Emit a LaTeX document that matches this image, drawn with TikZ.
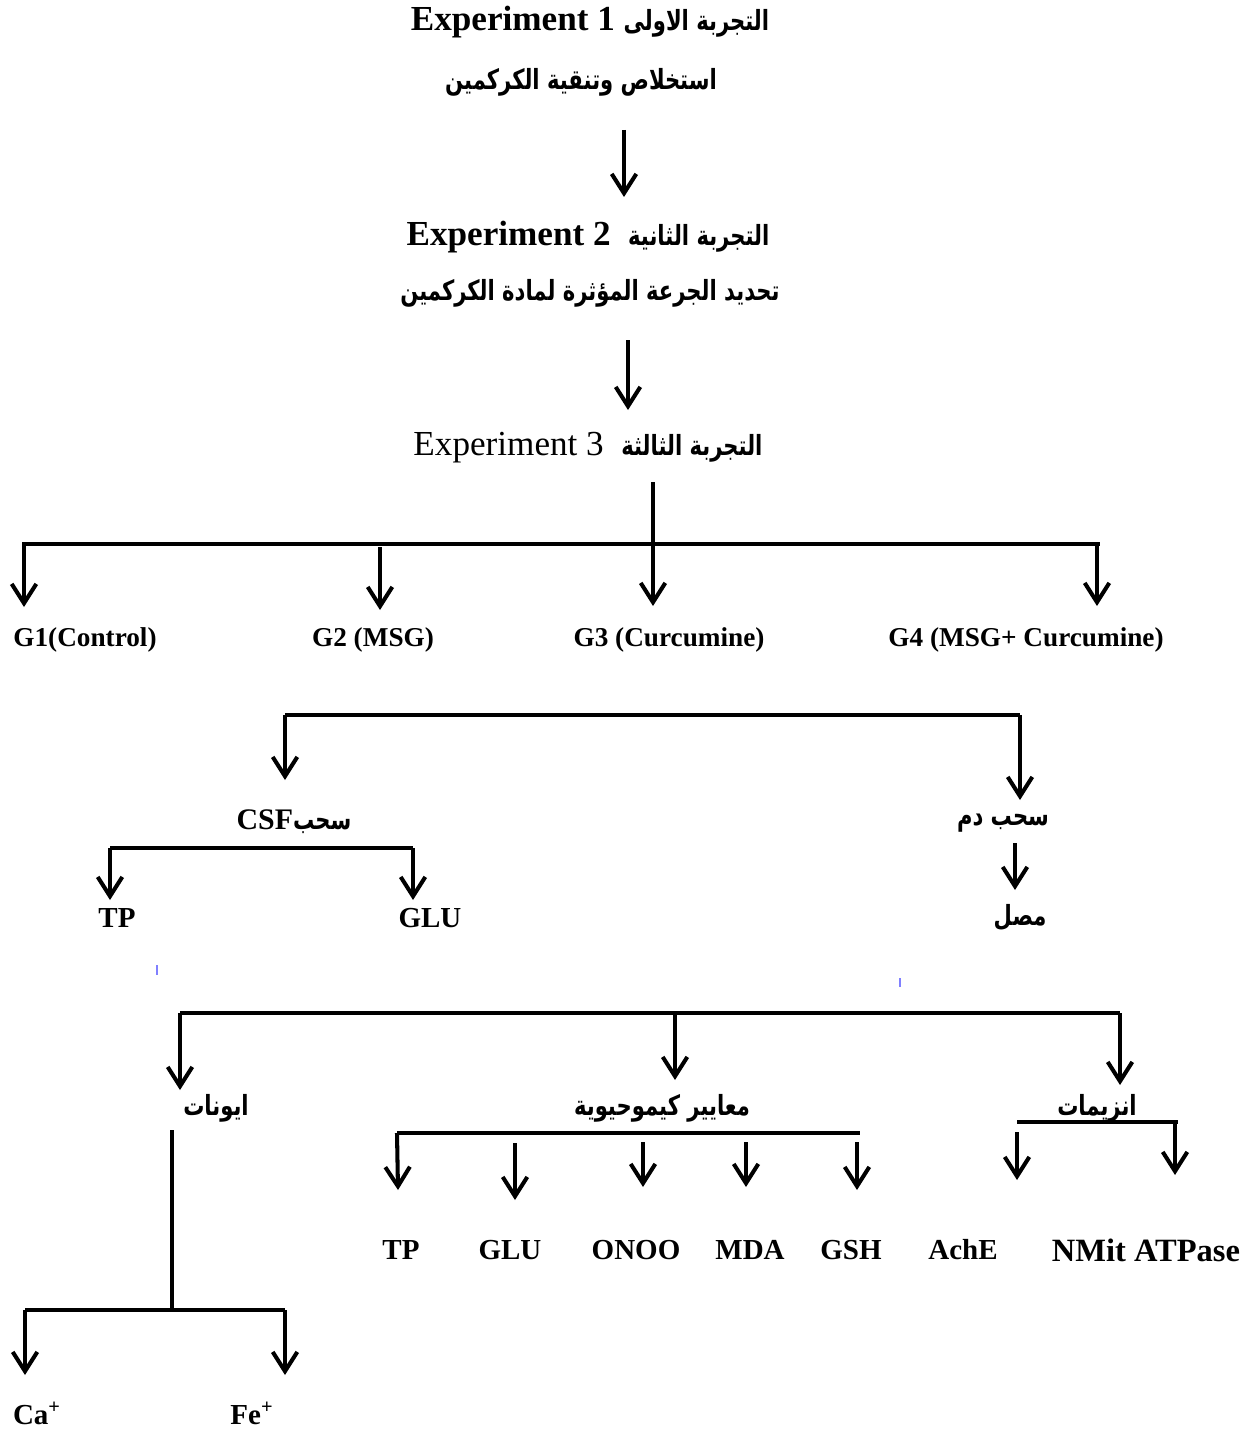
\documentclass[tikz,border=0pt]{standalone}
\usepackage{fontspec}
\setmainfont{Liberation Serif}
\newfontfamily\arabicfont[Script=Arabic,FakeStretch=0.76]{DejaVu Sans}
\TeXXeTstate=1
\usetikzlibrary{arrows.meta}
\newcommand{\artxt}[1]{{\arabicfont\bfseries\fontsize{15.8}{18}\selectfont\beginR #1\endR}}

\begin{document}
\begin{tikzpicture}[x=0.02cm,y=-0.02cm,
    lbl/.style={font=\bfseries\fontsize{15.5}{18}\selectfont,inner sep=0pt},
    lblbig/.style={font=\bfseries\fontsize{16.5}{19}\selectfont,inner sep=0pt},
    title/.style={font=\bfseries\fontsize{20}{24}\selectfont,inner sep=0pt},
    ar/.style={inner sep=0pt},
    bar/.style={line width=2.8pt},
    arr/.style={line width=2.3pt,-{Straight Barb[length=11pt,width=14pt]}}]
    \useasboundingbox (0,0) rectangle (1253,1429);

    % insert nodes
    \node[title] (exp1) at (590,22) {Experiment 1 \artxt{التجربة الاولى}};
    \node[ar] (exp1b) at (581,82) {\artxt{استخلاص وتنقية الكركمين}};
    \node[title] (exp2) at (588,237) {Experiment 2 \ \artxt{التجربة الثانية}};
    \node[ar] (exp2b) at (590,293) {\artxt{تحديد الجرعة المؤثرة لمادة الكركمين}};
    \node[title,font=\fontsize{20}{24}\selectfont] (exp3) at (588,448) {Experiment 3 \ \artxt{التجربة الثالثة}};

    \node[lbl] (g1) at (85,640) {G1(Control)};
    \node[lbl] (g2) at (373,640) {G2 (MSG)};
    \node[lbl] (g3) at (669,640) {G3 (Curcumine)};
    \node[lbl] (g4) at (1026,640) {G4 (MSG+ Curcumine)};

    \node[lbl,font=\bfseries\fontsize{17}{20}\selectfont] (csf) at (294,822) {CSF\artxt{سحب}};
    \node[ar] (blood) at (1003,823) {\artxt{سحب دم}};
    \node[ar] (serum) at (1020,917) {\artxt{مصل}};
    \node[lblbig] (tp1) at (117,918) {TP};
    \node[lblbig] (glu1) at (430,918) {GLU};

    \node[ar] (ions) at (216,1108) {\artxt{ايونات}};
    \node[ar] (biochem) at (662,1108) {\artxt{معايير كيموحيوية}};
    \node[ar] (enzymes) at (1097,1108) {\artxt{انزيمات}};

    \node[lblbig] (tp2) at (401,1250) {TP};
    \node[lblbig] (glu2) at (510,1250) {GLU};
    \node[lblbig] (onoo) at (636,1250) {ONOO};
    \node[lblbig] (mda) at (750,1250) {MDA};
    \node[lblbig] (gsh) at (851,1250) {GSH};
    \node[lblbig] (ache) at (963,1250) {AchE};
    \node[lblbig,font=\bfseries\fontsize{18.5}{21}\selectfont] (atpase) at (1146,1250) {NMit ATPase};

    \node[lblbig] (ca) at (37,1413) {Ca\textsuperscript{+}};
    \node[lblbig] (fe) at (252,1413) {Fe\textsuperscript{+}};

    % insert coordinates
    \coordinate (a1s) at (624,130);  \coordinate (a1e) at (624,197);
    \coordinate (a2s) at (628,340);  \coordinate (a2e) at (628,410);
    \coordinate (b1t) at (653,482);
    \coordinate (b1l) at (22,544);   \coordinate (b1r) at (1100,544);
    \coordinate (g1t) at (24,607);   \coordinate (g2s) at (380,547);
    \coordinate (g2t) at (380,610);  \coordinate (g3t) at (653,606);
    \coordinate (g4t) at (1097,606);
    \coordinate (b2l) at (285,715);  \coordinate (b2r) at (1020,715);
    \coordinate (csft) at (285,780); \coordinate (bloodt) at (1020,800);
    \coordinate (bls) at (1015,843); \coordinate (ble) at (1015,890);
    \coordinate (b3l) at (110,848);  \coordinate (b3r) at (413,848);
    \coordinate (tp1t) at (110,900); \coordinate (glu1t) at (413,900);
    \coordinate (b4l) at (180,1013); \coordinate (b4m) at (675,1013);
    \coordinate (b4r) at (1120,1013);
    \coordinate (ionst) at (180,1090); \coordinate (biot) at (675,1080);
    \coordinate (enzt) at (1120,1085);
    \coordinate (ions1) at (172,1130); \coordinate (ions2) at (172,1310);
    \coordinate (b5l) at (25,1310);  \coordinate (b5r) at (285,1310);
    \coordinate (cat) at (25,1375);  \coordinate (fet) at (285,1375);
    \coordinate (b6l) at (397,1133); \coordinate (b6r) at (860,1133);
    \coordinate (tp2t) at (398,1190);
    \coordinate (glu2s) at (515,1143); \coordinate (glu2t) at (515,1200);
    \coordinate (onoos) at (643,1142); \coordinate (onoot) at (643,1187);
    \coordinate (mdas) at (746,1142);  \coordinate (mdat) at (746,1187);
    \coordinate (gshs) at (857,1142);  \coordinate (gsht) at (857,1190);
    \coordinate (b7l) at (1017,1122); \coordinate (b7r) at (1178,1122);
    \coordinate (aches) at (1017,1132); \coordinate (achet) at (1017,1180);
    \coordinate (atps) at (1175,1122);  \coordinate (atpt) at (1175,1175);

    % insert links
    \draw[arr] (a1s) -- (a1e);
    \draw[arr] (a2s) -- (a2e);
    \draw[bar] (b1l) -- (b1r);
    \draw[arr] (b1t) -- (g3t);
    \draw[arr] (24,544) -- (g1t);
    \draw[arr] (g2s) -- (g2t);
    \draw[arr] (1097,544) -- (g4t);

    \draw[bar] (b2l) -- (b2r);
    \draw[arr] (b2l) -- (csft);
    \draw[arr] (b2r) -- (bloodt);
    \draw[arr] (bls) -- (ble);
    \draw[bar] (b3l) -- (b3r);
    \draw[arr] (b3l) -- (tp1t);
    \draw[arr] (b3r) -- (glu1t);

    \draw[blue!50,line width=0.6pt] (157,965) -- (157,975);
    \draw[blue!50,line width=0.6pt] (900,978) -- (900,987);

    \draw[bar] (b4l) -- (b4r);
    \draw[arr] (b4l) -- (ionst);
    \draw[arr] (b4m) -- (biot);
    \draw[arr] (b4r) -- (enzt);
    \draw[bar] (ions1) -- (ions2);
    \draw[bar] (b5l) -- (b5r);
    \draw[arr] (b5l) -- (cat);
    \draw[arr] (b5r) -- (fet);

    \draw[bar] (b6l) -- (b6r);
    \draw[arr] (b6l) -- (tp2t);
    \draw[arr] (glu2s) -- (glu2t);
    \draw[arr] (onoos) -- (onoot);
    \draw[arr] (mdas) -- (mdat);
    \draw[arr] (gshs) -- (gsht);
    \draw[bar] (b7l) -- (b7r);
    \draw[arr] (aches) -- (achet);
    \draw[arr] (atps) -- (atpt);
\end{tikzpicture}
\end{document}
